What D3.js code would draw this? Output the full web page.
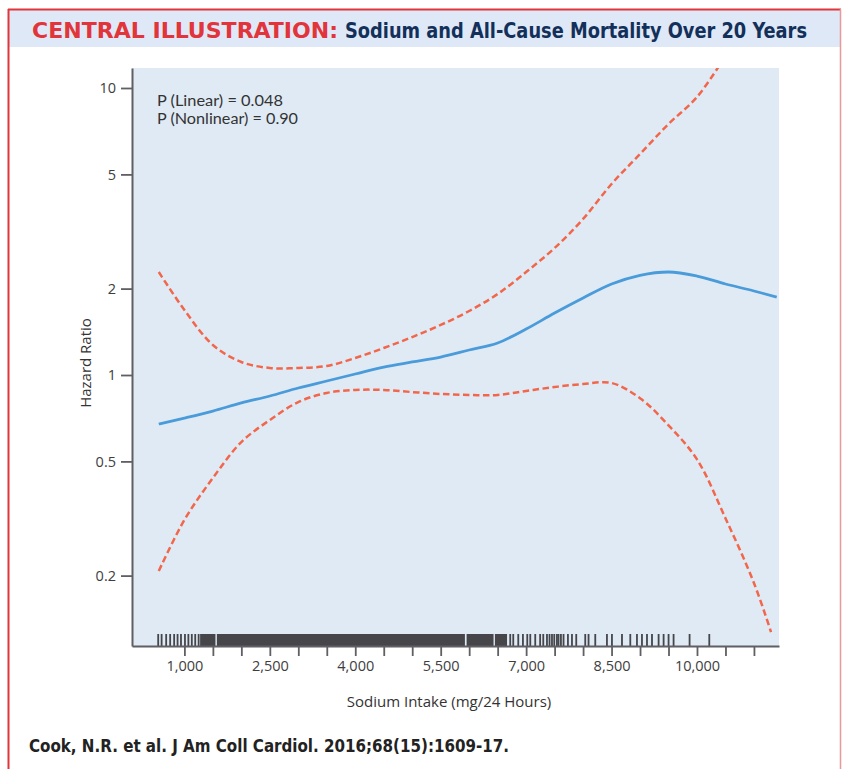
<!DOCTYPE html>
<html><head><meta charset="utf-8">
<script src="https://cdn.jsdelivr.net/npm/d3@7"></script>
<style>body{margin:0;background:#fff}</style>
</head><body><svg id="c" width="842" height="769"></svg>
<script>
// ---- data ----
const blueSodium = [550,1000,1500,2000,2500,3000,3500,4000,4500,5000,5500,6000,6500,7000,7500,8000,8500,9000,9500,10000,10500,11000,11400];
const blueHR = [0.675,0.708,0.749,0.799,0.845,0.901,0.953,1.008,1.066,1.110,1.155,1.222,1.293,1.446,1.644,1.855,2.075,2.225,2.285,2.212,2.075,1.962,1.869];
const upperSodium = [550,1000,1500,2000,2500,3000,3500,4000,4500,5000,5500,6000,6500,7000,7500,8000,8500,9000,9500,10000,10500];
const upperHR = [2.285,1.685,1.272,1.110,1.058,1.058,1.075,1.146,1.242,1.356,1.494,1.671,1.915,2.285,2.770,3.497,4.630,5.888,7.490,9.30,12.93];
const lowerSodium = [550,1000,1500,2000,2500,3000,3500,4000,4500,5000,5500,6000,6500,7000,7500,8000,8500,9000,9500,10000,10500,11000,11300];
const lowerHR = [0.2075,0.3125,0.4377,0.584,0.697,0.805,0.866,0.887,0.887,0.872,0.859,0.852,0.852,0.880,0.908,0.930,0.938,0.830,0.668,0.508,0.317,0.1885,0.1272];
const rugValues = [540,600,680,750,820,880,940,1010,1070,1130,1190,1250,
  6721,6774,6862,6944,7020,7073,7160,7246,7301,7366,7411,7454,7494,7541,7569,7611,7657,7734,7805,7880,
  8038,8096,8214,8419,8507,8683,8829,8946,9034,9122,9210,9326,9414,9501,9589,9870,10216];
const rugBands = [[1276,1545],[1570,5925],[5955,6428],[6452,6665]];
const yTicks = [0.2,0.5,1,2,5,10];
const xTicks = [1000,1500,2000,2500,3000,3500,4000,4500,5000,5500,6000,6500,7000,7500,8000,8500,9000,9500,10000,10500,11000];
const xLabels = [1000,2500,4000,5500,7000,8500,10000];
const xDomain = [80, 11440];
const yDomain = [0.1137, 11.74];

// ---- layout ----
const svg = d3.select("#c");
const L = 132, R = 779, T = 68, B = 646;
const x = d3.scaleLinear().domain(xDomain).range([L, R]);
const y = d3.scaleLog().domain(yDomain).range([B, T]);

// frame + title band
svg.append("rect").attr("x",9).attr("y",10).attr("width",831).attr("height",37).attr("fill","#dfe8f6");
svg.append("line").attr("x1",8).attr("x2",841).attr("y1",9.5).attr("y2",9.5).attr("stroke","#e0353b").attr("stroke-width",2);
svg.append("line").attr("x1",8.5).attr("x2",8.5).attr("y1",9).attr("y2",769).attr("stroke","#e0353b").attr("stroke-width",2);
svg.append("line").attr("x1",840.5).attr("x2",840.5).attr("y1",9).attr("y2",769).attr("stroke","#e8999b").attr("stroke-width",1.5);

const condensed = "'Liberation Sans Narrow','DejaVu Sans Condensed','Liberation Sans',sans-serif";
svg.append("text").attr("x",32).attr("y",38)
  .attr("textLength",306).attr("lengthAdjust","spacingAndGlyphs")
  .style("font-family",condensed).style("font-weight","bold").style("font-size","21px")
  .attr("fill","#e1343b").text("CENTRAL ILLUSTRATION:");
svg.append("text").attr("x",345).attr("y",38)
  .attr("textLength",462).attr("lengthAdjust","spacingAndGlyphs")
  .style("font-family",condensed).style("font-weight","bold").style("font-size","21px").attr("fill","#13305a")
  .text("Sodium and All-Cause Mortality Over 20 Years");

// plot background
svg.append("rect").attr("x",L).attr("y",T).attr("width",R-L).attr("height",B-T).attr("fill","#dfeaf5");
svg.append("clipPath").attr("id","clip").append("rect").attr("x",L).attr("y",T).attr("width",R-L).attr("height",B-T);

// rug
const rug = svg.append("g").attr("fill","#45454a");
rug.selectAll("rect.band").data(rugBands).join("rect").attr("class","band")
  .attr("x",d=>x(d[0])).attr("width",d=>x(d[1])-x(d[0])).attr("y",634).attr("height",B-634);
rug.selectAll("rect.tick").data(rugValues).join("rect").attr("class","tick")
  .attr("x",d=>x(d)-0.9).attr("width",1.8).attr("y",634).attr("height",B-634);

// curves
const line = d3.line().x(d=>x(d[0])).y(d=>y(d[1])).curve(d3.curveMonotoneX);
const ciLine = d3.line().x(d=>x(d[0])).y(d=>y(d[1])).curve(d3.curveCatmullRom.alpha(0.5));
const g = svg.append("g").attr("clip-path","url(#clip)");
g.append("path").datum(upperSodium.map((s,i)=>[s,upperHR[i]])).attr("d",ciLine)
  .attr("fill","none").attr("stroke","#f2674b").attr("stroke-width",2.5).attr("stroke-dasharray","6.5,3.5");
g.append("path").datum(lowerSodium.map((s,i)=>[s,lowerHR[i]])).attr("d",ciLine)
  .attr("fill","none").attr("stroke","#f2674b").attr("stroke-width",2.5).attr("stroke-dasharray","6.5,3.5");
g.append("path").datum(blueSodium.map((s,i)=>[s,blueHR[i]])).attr("d",line)
  .attr("fill","none").attr("stroke","#4a9bd9").attr("stroke-width",2.8);

// axes
const font = "'Open Sans','Lato',sans-serif";
const yAxis = svg.append("g").attr("transform",`translate(${L},0)`)
  .call(d3.axisLeft(y).tickValues(yTicks).tickFormat(d=>String(d)).tickSize(11).tickSizeOuter(0).tickPadding(5));
const xAxis = svg.append("g").attr("transform",`translate(0,${B})`)
  .call(d3.axisBottom(x).tickValues(xTicks).tickFormat(d=>xLabels.includes(d)?d3.format(",")(d):"").tickSize(10).tickSizeOuter(0).tickPadding(5));
[yAxis,xAxis].forEach(a=>{
  a.select(".domain").attr("stroke","#5f5f64").attr("stroke-width",2);
  a.selectAll(".tick line").attr("stroke","#5f5f64").attr("stroke-width",1.8);
  a.selectAll(".tick text").attr("fill","#3d3d3d").style("font-family",font).style("font-size","14.5px");
});

// labels
svg.append("text").attr("x",449).attr("y",707).attr("text-anchor","middle")
  .style("font-family",font).style("font-size","15px").attr("fill","#333").text("Sodium Intake (mg/24 Hours)");
svg.append("text").attr("transform","translate(91,363) rotate(-90)").attr("text-anchor","middle")
  .style("font-family",font).style("font-size","15px").attr("fill","#333").text("Hazard Ratio");
const pFont = "'Lato','Open Sans',sans-serif";
svg.append("text").attr("x",157).attr("y",105.5).attr("textLength",126).attr("lengthAdjust","spacingAndGlyphs")
  .style("font-family",pFont).style("font-size","14.5px").attr("fill","#333").text("P (Linear) = 0.048");
svg.append("text").attr("x",157).attr("y",123.5).attr("textLength",141).attr("lengthAdjust","spacingAndGlyphs")
  .style("font-family",pFont).style("font-size","14.5px").attr("fill","#333").text("P (Nonlinear) = 0.90");

// citation
svg.append("text").attr("x",29).attr("y",752).attr("textLength",480).attr("lengthAdjust","spacingAndGlyphs")
  .style("font-family",condensed).style("font-weight","bold").style("font-size","18px").attr("fill","#222")
  .text("Cook, N.R. et al. J Am Coll Cardiol. 2016;68(15):1609-17.");
</script></body></html>
